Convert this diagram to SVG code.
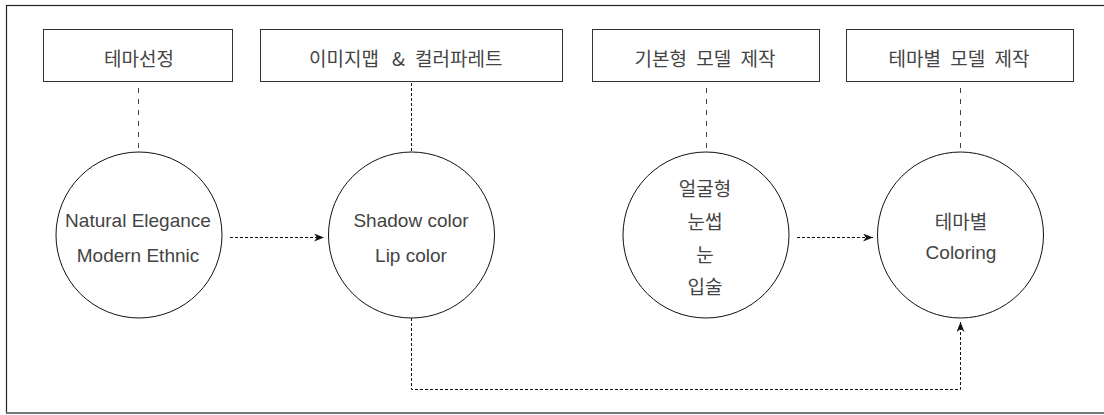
<svg xmlns="http://www.w3.org/2000/svg" width="1104" height="415" viewBox="0 0 1104 415">
<style>
.box{fill:#fff;stroke:#333;stroke-width:1}
.cir{fill:#fff;stroke:#111;stroke-width:1}
.kr{font-family:"Noto Sans CJK KR","Noto Sans",sans-serif;font-size:19px;fill:#444;text-anchor:middle;dominant-baseline:central}
.en{font-family:"Liberation Sans",Arial,sans-serif;font-size:19px;fill:#444;text-anchor:middle}
.dash{fill:none;stroke:#444;stroke-width:1;stroke-dasharray:5 6}
.dot{fill:none;stroke:#111;stroke-width:1;stroke-dasharray:3 2}
</style>
<defs>
<marker id="ah" viewBox="0 0 10 8" refX="10" refY="4" markerWidth="10" markerHeight="8" markerUnits="userSpaceOnUse" orient="auto">
<path d="M0,0 L10,4 L0,8 L3,4 z" fill="#111"/>
</marker>
</defs>
<rect x="6.5" y="5.5" width="1110" height="407.5" fill="#fff" stroke="#222" stroke-width="1.2"/>
<line x1="6" y1="413" x2="1104" y2="413" stroke="#777" stroke-width="1.5"/>

<g id="connectors">
<line class="dash" x1="138.5" y1="88" x2="138.5" y2="148"/>
<line class="dot" x1="411.5" y1="83" x2="411.5" y2="152"/>
<line class="dash" x1="706.5" y1="88" x2="706.5" y2="148"/>
<line class="dash" x1="960.5" y1="88" x2="960.5" y2="148"/>
<line class="dot" x1="230" y1="237.5" x2="324" y2="237.5" marker-end="url(#ah)"/>
<line class="dot" x1="797" y1="237.5" x2="873" y2="237.5" marker-end="url(#ah)"/>
<polyline class="dot" points="411.5,318 411.5,389.5 960.5,389.5 960.5,322" marker-end="url(#ah)"/>
</g>

<g id="box1">
<rect class="box" x="43.5" y="29.5" width="189" height="52"/>
<text class="kr" x="139" y="57">테마선정</text>
</g>
<g id="box2">
<rect class="box" x="260.5" y="29.5" width="302" height="52"/>
<text class="kr" y="57" style="text-anchor:start"><tspan x="309">이미지맵</tspan><tspan x="392">&amp;</tspan><tspan x="415">컬러파레트</tspan></text>
</g>
<g id="box3">
<rect class="box" x="592.5" y="29.5" width="227" height="52"/>
<text class="kr" x="705" y="57" word-spacing="5">기본형 모델 제작</text>
</g>
<g id="box4">
<rect class="box" x="846.5" y="29.5" width="227" height="52"/>
<text class="kr" x="959" y="57" word-spacing="5">테마별 모델 제작</text>
</g>

<g id="circle1">
<circle class="cir" cx="139" cy="235" r="83"/>
<text class="en" x="138" y="227">Natural Elegance</text>
<text class="en" x="138" y="262">Modern Ethnic</text>
</g>
<g id="circle2">
<circle class="cir" cx="411.5" cy="235" r="83"/>
<text class="en" x="411" y="227">Shadow color</text>
<text class="en" x="411" y="262">Lip color</text>
</g>
<g id="circle3">
<circle class="cir" cx="706" cy="235" r="83"/>
<text class="kr" x="705" y="187">얼굴형</text>
<text class="kr" x="705" y="220">눈썹</text>
<text class="kr" x="705" y="253">눈</text>
<text class="kr" x="705" y="285">입술</text>
</g>
<g id="circle4">
<circle class="cir" cx="960.5" cy="235" r="83"/>
<text class="kr" x="961" y="220">테마별</text>
<text class="en" x="961" y="259">Coloring</text>
</g>
</svg>
